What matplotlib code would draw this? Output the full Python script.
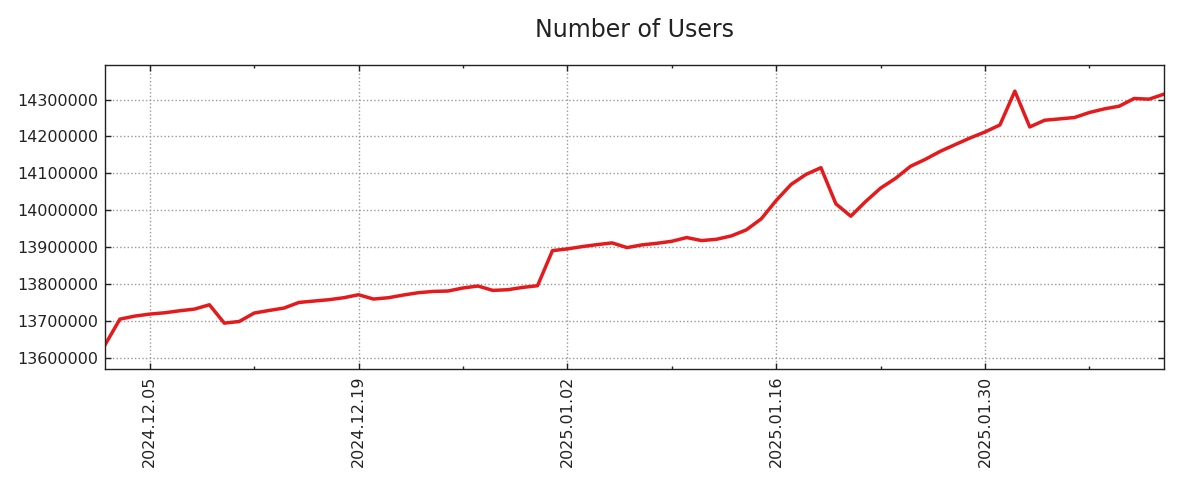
import datetime
import matplotlib
matplotlib.use('Agg')
import matplotlib.pyplot as plt
import matplotlib.dates as mdates

plt.rcParams['font.family'] = ['DejaVu Sans']

# daily user counts, 2024.12.02 .. 2025.02.11
start_date = datetime.date(2024, 12, 2)
users = [
    13634500, 13704400, 13712600, 13718000, 13721600, 13727000, 13731600, 13743300,
    13693500, 13698000, 13720800, 13727900, 13734400, 13749600, 13753400, 13757000,
    13762400, 13770500, 13758800, 13762400, 13769700, 13776000, 13779500, 13780600,
    13788800, 13794200, 13782300, 13784100, 13790400, 13795000, 13890200, 13894800,
    13901100, 13906500, 13911100, 13898400, 13905700, 13910000, 13915500, 13925600,
    13917400, 13921000, 13930200, 13946500, 13976400, 14026200, 14069700, 14096900,
    14115100, 14017200, 13983500, 14023500, 14059700, 14086100, 14118700, 14137800,
    14159500, 14177700, 14195700, 14212000, 14231000, 14322700, 14225600, 14243800,
    14247400, 14251200, 14264800, 14274600, 14281900, 14302800, 14300900, 14314600,
]
dates = [start_date + datetime.timedelta(days=i) for i in range(len(users))]
title = 'Number of Users'

fig = plt.figure(figsize=(12, 5), dpi=100)
ax = fig.add_axes([0.0875, 0.262, 0.8825, 0.608])

ax.plot(dates, users, color='#e41a1c', linewidth=2.5)

ax.set_xlim(dates[0], dates[-1])
lo, hi = min(users), max(users)
ax.set_ylim(lo - 0.095 * (hi - lo), hi + 0.103 * (hi - lo))

# major ticks every two weeks, minor ticks in between
first_major = datetime.date(2024, 12, 5)
major_ticks = [first_major + datetime.timedelta(days=14 * k) for k in range(6)]
minor_ticks = [first_major + datetime.timedelta(days=7 + 14 * k) for k in range(5)]
ax.set_xticks([mdates.date2num(d) for d in major_ticks if d <= dates[-1]])
ax.set_xticks([mdates.date2num(d) for d in minor_ticks if d <= dates[-1]], minor=True)
ax.xaxis.set_major_formatter(mdates.DateFormatter('%Y.%m.%d'))
ax.set_yticks(range(13600000, 14300001, 100000))
ax.ticklabel_format(axis='y', style='plain', useOffset=False)

ax.tick_params(which='both', direction='in', top=True, right=True, labelsize=11.5,
               colors='#222222', pad=5)
ax.tick_params(which='major', length=4, width=1)
ax.tick_params(which='minor', length=2, width=1)
for lbl in ax.get_xticklabels():
    lbl.set_rotation(90)

for sp in ax.spines.values():
    sp.set_color('#222222')
    sp.set_linewidth(1)

ax.grid(True, which='major', linestyle=':', color='#999999', linewidth=1)
ax.set_title(title, fontsize=17, pad=20, color='#222222')

fig.savefig('out.png', dpi=100)
